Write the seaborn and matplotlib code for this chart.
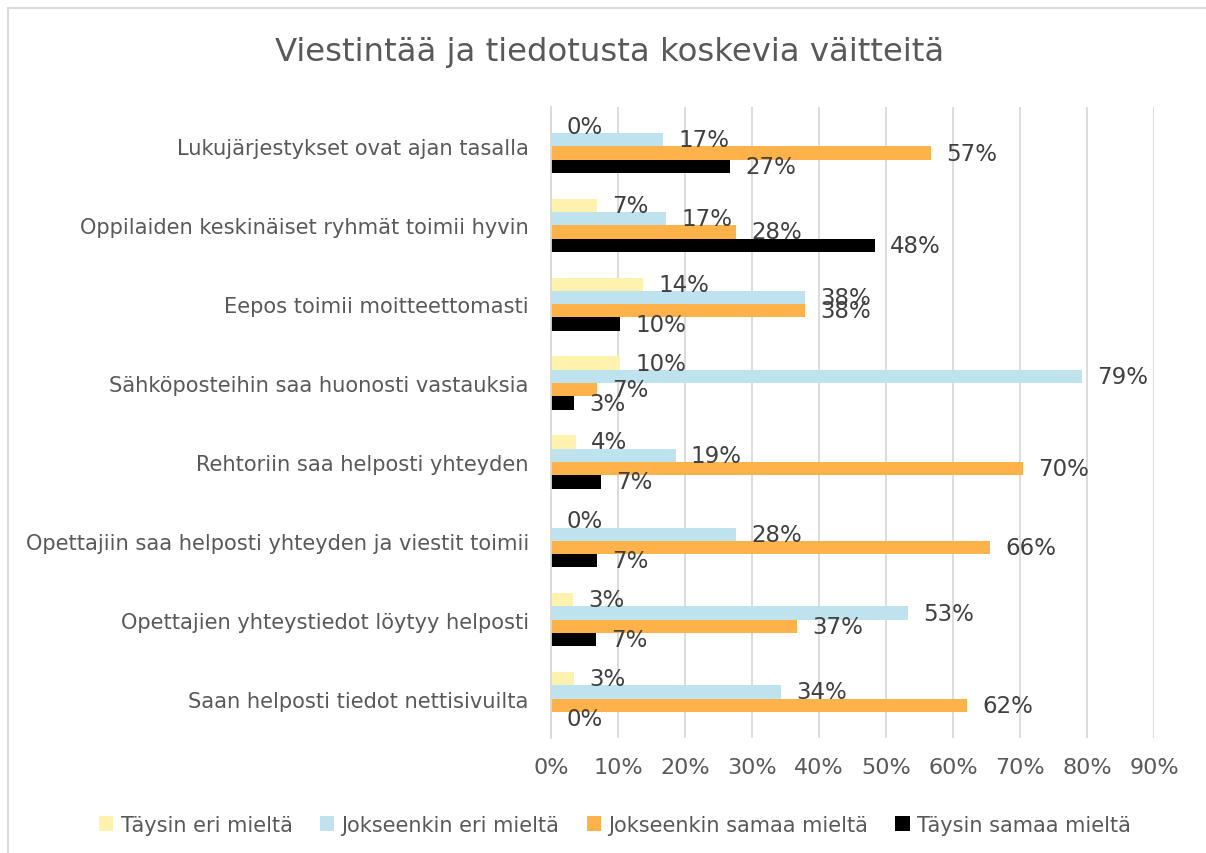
import matplotlib
matplotlib.use("Agg")
import matplotlib.pyplot as plt
import seaborn as sns
import pandas as pd
from matplotlib.patches import Patch
from matplotlib.lines import Line2D

categories = [
    "Lukujärjestykset ovat ajan tasalla",
    "Oppilaiden keskinäiset ryhmät toimii hyvin",
    "Eepos toimii moitteettomasti",
    "Sähköposteihin saa huonosti vastauksia",
    "Rehtoriin saa helposti yhteyden",
    "Opettajiin saa helposti yhteyden ja viestit toimii",
    "Opettajien yhteystiedot löytyy helposti",
    "Saan helposti tiedot nettisivuilta",
]
series = ["Täysin eri mieltä", "Jokseenkin eri mieltä", "Jokseenkin samaa mieltä", "Täysin samaa mieltä"]
taysin_eri = [0.0, 6.9, 13.8, 10.3, 3.7, 0.0, 3.3, 3.4]
jokseenkin_eri = [16.7, 17.2, 37.9, 79.3, 18.6, 27.6, 53.3, 34.4]
jokseenkin_samaa = [56.7, 27.6, 37.9, 6.9, 70.4, 65.5, 36.7, 62.1]
taysin_samaa = [26.7, 48.3, 10.3, 3.4, 7.4, 6.9, 6.7, 0.0]
x_ticks = [0, 10, 20, 30, 40, 50, 60, 70, 80, 90]
colors = ["#FFF2AE", "#BEE3EF", "#FFB14A", "#000000"]
title = "Viestintää ja tiedotusta koskevia väitteitä"

rows = []
for s, vals in zip(series, [taysin_eri, jokseenkin_eri, jokseenkin_samaa, taysin_samaa]):
    for c, v in zip(categories, vals):
        rows.append({"category": c, "series": s, "value": v})
df = pd.DataFrame(rows)

sns.set_style("white")
plt.rcParams["font.family"] = ["DejaVu Sans"]

W, H = 1206, 854
fig = plt.figure(figsize=(W / 100, H / 100), dpi=100)
ax = fig.add_axes([551 / W, 1 - 739 / H, (1154 - 551) / W, (739 - 108) / H])

sns.barplot(data=df, y="category", x="value", hue="series", order=categories,
            hue_order=series, palette=colors, saturation=1, orient="h", width=0.675,
            dodge=True, linewidth=0, legend=False, ax=ax)

for cont in ax.containers:
    ax.bar_label(cont, labels=[f"{int(v + 0.5)}%" for v in cont.datavalues],
                 padding=11, fontsize=16.5, color="#404040")

ax.set_xlim(0, 90)
ax.set_ylim(len(categories) - 0.5, -0.5)
ax.set_xticks(x_ticks)
ax.set_xticklabels([f"{t}%" for t in x_ticks])
ax.grid(axis="x", color="#D9D9D9", linewidth=1.3)
ax.set_axisbelow(True)
for sp in ["top", "right", "bottom"]:
    ax.spines[sp].set_visible(False)
ax.spines["left"].set_color("#D9D9D9")
ax.spines["left"].set_linewidth(1.3)
ax.tick_params(axis="x", length=0, pad=14, labelsize=16, labelcolor="#595959")
ax.tick_params(axis="y", length=0, pad=16, labelsize=15.1, labelcolor="#595959")
ax.set_xlabel("")
ax.set_ylabel("")

fig.text(610 / W, 1 - 52 / H, title, ha="center", va="center", fontsize=23.3, color="#595959")

handles = [Patch(facecolor=c, edgecolor="none") for c in colors]
fig.legend(handles, series, loc="center", bbox_to_anchor=(615 / W, 1 - 826 / H), ncol=4,
           frameon=False, fontsize=15, labelcolor="#595959", handlelength=0.7,
           handleheight=0.7, handletextpad=0.35, columnspacing=1.3)

fig.add_artist(Line2D([8 / W, 8 / W], [0, 1 - 9 / H], transform=fig.transFigure, color="#D9D9D9", linewidth=1.5))
fig.add_artist(Line2D([8 / W, 1], [1 - 9 / H, 1 - 9 / H], transform=fig.transFigure, color="#D9D9D9", linewidth=1.5))

fig.savefig("out.png", dpi=100)
